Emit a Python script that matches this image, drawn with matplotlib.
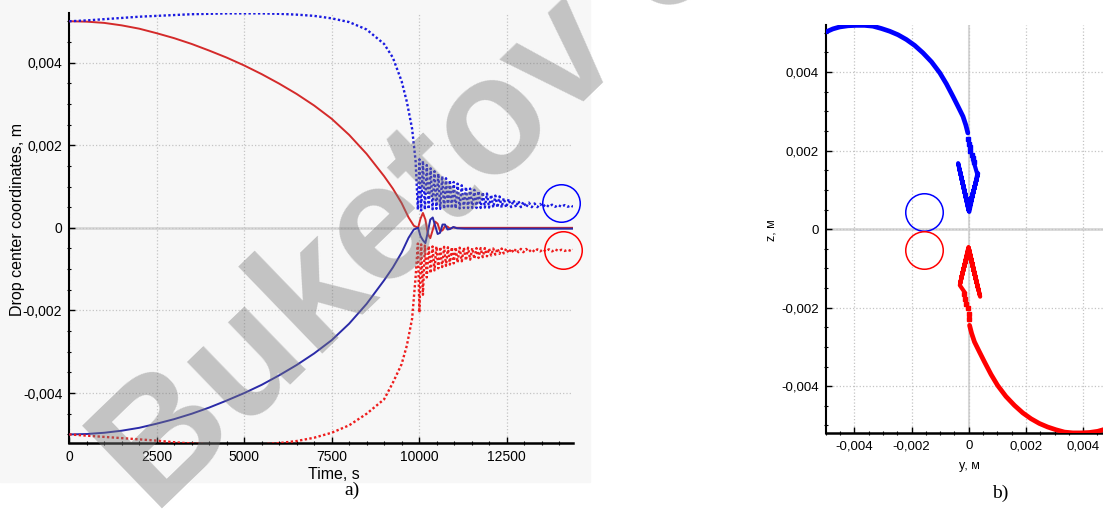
import numpy as np
import matplotlib.pyplot as plt
from matplotlib.ticker import MultipleLocator, FuncFormatter

# ---- a) drop centre coordinates vs time (values in mm) ----
t_smooth = [0, 500, 1000, 1500, 2000, 2500, 3000, 3500, 4000, 4500, 5000, 5500,
            6000, 6500, 7000, 7500, 8000, 8500, 9000, 9250, 9500, 9700, 9850]
y_red = [5.00, 4.99, 4.96, 4.90, 4.82, 4.71, 4.59, 4.45, 4.29, 4.12, 3.93, 3.72,
         3.49, 3.24, 2.96, 2.64, 2.25, 1.79, 1.25, 0.95, 0.60, 0.25, 0.05]
y_blue = [-5.00, -4.99, -4.96, -4.91, -4.84, -4.74, -4.63, -4.50, -4.35, -4.18, -4.00, -3.80,
          -3.57, -3.32, -3.04, -2.72, -2.32, -1.84, -1.27, -0.96, -0.60, -0.24, -0.04]

# small loops of the horizontal coordinate after contact
t_loop = [9972, 10040, 10110, 10180, 10250, 10320, 10390, 10460, 10530, 10600,
          10670, 10740, 10810, 10880, 10980, 11080, 11300, 12000, 13000, 14400]
y_red_loop = [0.0, 0.22, 0.36, 0.20, -0.15, -0.25, -0.05, 0.15, 0.10, -0.08,
              -0.06, 0.04, 0.03, -0.02, 0.01, 0.0, 0.0, 0.0, 0.0, 0.0]
y_blue_loop = [0.0, -0.20, -0.30, -0.37, -0.10, 0.20, 0.25, 0.05, -0.15, -0.12,
               0.08, 0.08, -0.04, -0.03, 0.02, -0.01, -0.02, -0.02, -0.02, -0.02]

# vertical coordinate before contact
t_z = [0, 500, 1000, 1500, 2000, 2500, 3000, 3500, 4000, 4500, 5000, 5500,
       6000, 6500, 7000, 7500, 8000, 8500, 9000, 9250, 9500, 9650, 9800, 9900, 9965]
z_blue = [5.00, 5.02, 5.05, 5.08, 5.11, 5.13, 5.15, 5.17, 5.18, 5.19, 5.19, 5.19,
          5.18, 5.16, 5.13, 5.07, 4.98, 4.80, 4.45, 4.12, 3.55, 3.05, 2.40, 1.62, 0.44]
z_red = [-5.00, -5.03, -5.06, -5.09, -5.12, -5.15, -5.19, -5.22, -5.24, -5.25, -5.25, -5.24,
         -5.21, -5.16, -5.08, -4.96, -4.78, -4.50, -4.15, -3.75, -3.30, -2.85, -2.20, -1.20, -0.38]

# damped bouncing of the vertical coordinate: extremes and returns
t_peak = [10010, 10110, 10220, 10330, 10440, 10550, 10660, 10770, 10880, 10990,
          11100, 11220, 11340, 11460, 11580, 11700, 11820, 11940, 12060, 12180,
          12300, 12420, 12560, 12700, 12840, 12980, 13140, 13300, 13460, 13620,
          13800, 13980, 14160, 14340]
t_back = [10060, 10165, 10275, 10385, 10495, 10605, 10715, 10825, 10935, 11045,
          11160, 11280, 11400, 11520, 11640, 11760, 11880, 12000, 12120, 12240,
          12360, 12490, 12630, 12770, 12910, 13060, 13220, 13380, 13540, 13710,
          13890, 14070, 14250, 14400]
z_blue_peak = [1.66, 1.62, 1.52, 1.44, 1.37, 1.31, 1.25, 1.20, 1.15, 1.11,
               1.07, 1.03, 0.99, 0.95, 0.92, 0.89, 0.86, 0.83, 0.80, 0.78,
               0.76, 0.72, 0.70, 0.67, 0.65, 0.63, 0.61, 0.59, 0.58, 0.57,
               0.56, 0.55, 0.55, 0.54]
z_blue_back = [0.42, 0.44, 0.45, 0.45, 0.46, 0.46, 0.46, 0.47, 0.47, 0.47,
               0.47, 0.48, 0.48, 0.48, 0.48, 0.48, 0.49, 0.49, 0.49, 0.49,
               0.49, 0.49, 0.50, 0.50, 0.50, 0.50, 0.50, 0.50, 0.51, 0.51,
               0.51, 0.51, 0.51, 0.51]
z_red_peak = [-2.05, -1.62, -1.20, -1.10, -1.03, -0.98, -0.95, -0.92, -0.89, -0.86,
              -0.84, -0.81, -0.79, -0.77, -0.75, -0.73, -0.71, -0.69, -0.67, -0.65,
              -0.63, -0.62, -0.61, -0.60, -0.59, -0.59, -0.58, -0.58, -0.57, -0.57,
              -0.57, -0.56, -0.56, -0.56]
z_red_back = [-0.40, -0.43, -0.44, -0.45, -0.45, -0.46, -0.46, -0.47, -0.47, -0.47,
              -0.48, -0.48, -0.48, -0.49, -0.49, -0.49, -0.49, -0.50, -0.50, -0.50,
              -0.50, -0.50, -0.51, -0.51, -0.51, -0.51, -0.52, -0.52, -0.52, -0.52,
              -0.52, -0.53, -0.53, -0.53]

# drop outlines marked at the end of the run
drop_t = [14050, 14100]
drop_z = [0.61, -0.53]

# ---- b) trajectories in the y-z plane (mm) ----
arc_blue_y = [-5.00, -4.75, -4.51, -4.22, -3.93, -3.64, -3.35, -3.05, -2.76, -2.47, -2.18,
              -1.89, -1.60, -1.30, -1.01, -0.78, -0.55, -0.37, -0.20, -0.10, -0.03]
arc_blue_z = [5.02, 5.10, 5.15, 5.18, 5.19, 5.19, 5.17, 5.11, 5.04, 4.95, 4.83,
              4.68, 4.49, 4.26, 3.98, 3.70, 3.38, 3.12, 2.87, 2.65, 2.45]
fall_blue_y = [-0.02, 0.00, 0.03, 0.06, 0.10, 0.14, 0.18]
fall_blue_z = [2.30, 2.18, 2.08, 1.98, 1.90, 1.80, 1.70]
v_blue_y = [0.18, 0.30, 0.02, -0.37, 0.00, 0.33, 0.00, -0.32, 0.01, 0.28, 0.00, -0.26, 0.00, 0.22,
            0.00, -0.20, 0.00, 0.16, 0.00, -0.13, 0.00, 0.10, 0.00, -0.06, 0.00, 0.03, 0.00]
v_blue_z = [1.70, 1.40, 0.44, 1.68, 0.46, 1.42, 0.48, 1.52, 0.50, 1.28, 0.51, 1.32, 0.52, 1.12,
            0.53, 1.12, 0.54, 0.96, 0.55, 0.88, 0.56, 0.76, 0.57, 0.66, 0.58, 0.62, 0.58]

arc_red_y = [0.03, 0.10, 0.20, 0.37, 0.55, 0.78, 1.01, 1.30, 1.60, 1.89, 2.18,
             2.47, 2.76, 3.05, 3.35, 3.64, 3.93, 4.22, 4.51, 4.75, 5.00]
arc_red_z = [-2.45, -2.65, -2.87, -3.12, -3.38, -3.70, -3.98, -4.26, -4.49, -4.68, -4.83,
             -4.95, -5.04, -5.11, -5.17, -5.19, -5.19, -5.18, -5.15, -5.10, -5.02]
fall_red_y = [0.02, 0.00, -0.04, -0.08, -0.12, -0.15]
fall_red_z = [-2.30, -2.15, -2.02, -1.90, -1.78, -1.66]
v_red_y = [-0.15, -0.31, -0.01, 0.40, 0.00, -0.30, 0.00, 0.34, 0.00, -0.26, 0.00, 0.28, 0.00, -0.21,
           0.00, 0.21, 0.00, -0.15, 0.00, 0.14, 0.00, -0.09, 0.00, 0.07, 0.00, -0.03, 0.00]
v_red_z = [-1.60, -1.43, -0.46, -1.72, -0.47, -1.38, -0.48, -1.56, -0.50, -1.24, -0.51, -1.38, -0.52, -1.10,
           -0.53, -1.16, -0.54, -0.95, -0.55, -0.92, -0.55, -0.78, -0.56, -0.74, -0.57, -0.64, -0.57]

drop_y = [-1.57, -1.55]
drop_z2 = [0.44, -0.53]

mm = 1e-3


def interleave(a, b):
    out = []
    for p, q in zip(a, b):
        out += [p, q]
    return out


def comma(v, pos):
    v = round(v, 6) + 0.0
    return ('%g' % v).replace('.', ',')


tick_font = dict(family='Liberation Sans')

fig = plt.figure(figsize=(11.03, 5.11), dpi=100)
fig.patches.append(plt.Rectangle((0, 0.057), 0.535, 0.943, transform=fig.transFigure,
                                 color='#f7f7f7', zorder=-10))

# ---------- panel a ----------
ax = fig.add_axes([0.0628, 0.1337, 0.4567, 0.8409])
ax.set_facecolor('#f7f7f7')

t_solid = t_smooth + t_loop
ax.plot(t_solid, np.array(y_red + y_red_loop) * mm, color='#d42a2a', lw=1.4, zorder=3)
ax.plot(t_solid, np.array(y_blue + y_blue_loop) * mm, color='#2a2aa8', lw=1.4, zorder=3)

t_osc = interleave(t_peak, t_back)
ax.plot(t_z + t_osc, np.array(z_blue + interleave(z_blue_peak, z_blue_back)) * mm,
        color='#1a1ae0', lw=1.7, ls=(0, (1, 1)), zorder=3)
ax.plot(t_z + t_osc, np.array(z_red + interleave(z_red_peak, z_red_back)) * mm,
        color='#ee1c1c', lw=1.7, ls=(0, (1, 1)), zorder=3)

ax.plot(drop_t[0], drop_z[0] * mm, 'o', ms=27, mfc='none', mec='#0000ff', mew=1.1,
        zorder=4, clip_on=False)
ax.plot(drop_t[1], drop_z[1] * mm, 'o', ms=27, mfc='none', mec='#ff0000', mew=1.1,
        zorder=4, clip_on=False)

ax.set_xlim(0, 14400)
ax.set_ylim(-0.0052, 0.0052)
ax.axhline(0, color='#d8d8d8', lw=2, zorder=1)
ax.xaxis.set_major_locator(MultipleLocator(2500))
ax.xaxis.set_minor_locator(MultipleLocator(500))
ax.yaxis.set_major_locator(MultipleLocator(0.002))
ax.yaxis.set_minor_locator(MultipleLocator(0.0005))
ax.xaxis.set_major_formatter(FuncFormatter(comma))
ax.yaxis.set_major_formatter(FuncFormatter(comma))
ax.grid(True, which='major', color='#c4c4c4', ls=':', lw=0.9, zorder=0)
ax.set_xlabel('Time, s', fontsize=11.5, **tick_font)
ax.set_ylabel('Drop center coordinates, m', fontsize=11.5, **tick_font)
ax.xaxis.set_label_coords(0.5255, -0.056)
ax.yaxis.set_label_coords(-0.088, 0.52)

# ---------- panel b ----------
bx = fig.add_axes([0.7486, 0.1521, 0.2593, 0.799])
bx.axhline(0, color='#d8d8d8', lw=2, zorder=1)
bx.axvline(0, color='#d8d8d8', lw=1.5, zorder=1)
bx.plot(np.array(arc_blue_y) * mm, np.array(arc_blue_z) * mm, color='#0000ff', lw=3.4,
        solid_capstyle='round', zorder=3)
bx.plot(np.array(fall_blue_y) * mm, np.array(fall_blue_z) * mm, 's', color='#0000ff', ms=2.5, zorder=3)
bx.plot(np.array(v_blue_y) * mm, np.array(v_blue_z) * mm, color='#0000ff', lw=3.0,
        solid_joinstyle='round', zorder=3)
bx.plot(np.array(arc_red_y) * mm, np.array(arc_red_z) * mm, color='#ff0000', lw=3.4,
        solid_capstyle='round', zorder=3)
bx.plot(np.array(fall_red_y) * mm, np.array(fall_red_z) * mm, 's', color='#ff0000', ms=2.5, zorder=3)
bx.plot(np.array(v_red_y) * mm, np.array(v_red_z) * mm, color='#ff0000', lw=3.0,
        solid_joinstyle='round', zorder=3)
bx.plot(drop_y[0] * mm, drop_z2[0] * mm, 'o', ms=27, mfc='none', mec='#0000ff', mew=1.1, zorder=4)
bx.plot(drop_y[1] * mm, drop_z2[1] * mm, 'o', ms=27, mfc='none', mec='#ff0000', mew=1.1, zorder=4)

bx.set_xlim(-0.005, 0.005)
bx.set_ylim(-0.0052, 0.0052)
for a in (bx.xaxis, bx.yaxis):
    a.set_major_locator(MultipleLocator(0.002))
    a.set_minor_locator(MultipleLocator(0.0005))
    a.set_major_formatter(FuncFormatter(comma))
bx.grid(True, which='major', color='#c4c4c4', ls=':', lw=0.9, zorder=0)
bx.set_xlabel('y, м', fontsize=9, **tick_font)
bx.set_ylabel('z, м', fontsize=9, **tick_font)
bx.xaxis.set_label_coords(0.501, -0.065)
bx.yaxis.set_label_coords(-0.17, 0.498)

for a, fs in ((ax, 10), (bx, 9.5)):
    for s in ('top', 'right'):
        a.spines[s].set_visible(False)
    a.spines['left'].set_linewidth(1.5)
    a.spines['bottom'].set_linewidth(1.8)
    a.tick_params(which='major', direction='in', length=4, width=1, pad=5, labelsize=fs)
    a.tick_params(which='minor', direction='inout', length=3, width=0.8)
    for lab in a.get_xticklabels() + a.get_yticklabels():
        lab.set_fontfamily('Liberation Sans')

fig.text(352 / 1103, 1 - 490 / 511, 'a)', ha='center', va='center', fontsize=14,
         family='Liberation Serif')
fig.text(1000 / 1103, 1 - 493 / 511, 'b)', ha='center', va='center', fontsize=14,
         family='Liberation Serif')

fig.text(0.14, -0.01, 'Buketov University', rotation=44, rotation_mode='anchor',
         ha='left', va='baseline', fontsize=120, fontweight='bold', color='#7a7a7a',
         alpha=0.42, family='Liberation Sans', zorder=10)

fig.savefig('out.png', dpi=100)
